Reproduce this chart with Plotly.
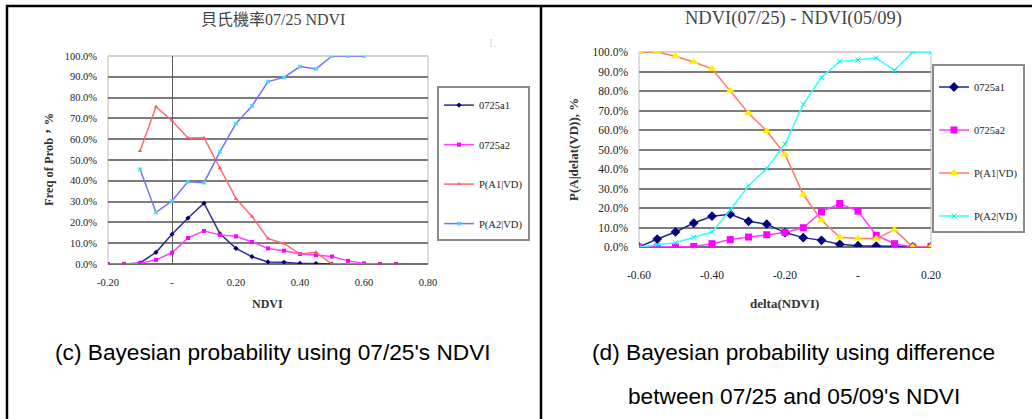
import plotly.graph_objects as go

W, H = 1032, 419

# ---------------- data: left chart (07/25 NDVI) ----------------
left_x_all = [-0.20, -0.15, -0.10, -0.05, 0.00, 0.05, 0.10, 0.15, 0.20, 0.25,
              0.30, 0.35, 0.40, 0.45, 0.50, 0.55, 0.60, 0.65, 0.70]
left_x_a1 = left_x_all[1:15]          # -0.15 .. 0.50
left_a1 = [0.0, 0.5, 5.6, 14.3, 22.1, 29.2, 14.5, 7.5, 3.5, 1.0, 0.8, 0.3, 0.2, 0.0]
left_a2 = [0.0, 0.0, 0.3, 2.0, 5.4, 12.5, 15.9, 14.0, 13.3, 10.6, 7.5, 6.4, 4.8,
           4.3, 3.6, 1.5, 0.3, 0.0, 0.0]
left_x_p = left_x_all[2:17]           # -0.10 .. 0.60
left_p1 = [54.3, 75.6, 68.9, 60.6, 60.7, 46.0, 31.4, 22.8, 12.2, 9.9, 4.8, 5.6, 0.0, 0.0, 0.0]
left_p2 = [45.5, 24.8, 30.3, 39.6, 39.1, 54.0, 67.6, 76.0, 87.7, 89.7, 94.9, 93.8, 100.0, 100.0, 100.0]
left_xticks = [-0.2, 0.0, 0.2, 0.4, 0.6, 0.8]
left_xticktext = ["-0.20", "-", "0.20", "0.40", "0.60", "0.80"]

# ---------------- data: right chart (delta NDVI) ----------------
right_x = [-0.60, -0.55, -0.50, -0.45, -0.40, -0.35, -0.30, -0.25, -0.20, -0.15,
           -0.10, -0.05, 0.00, 0.05, 0.10, 0.15, 0.20]
right_a1 = [0.0, 4.1, 7.7, 12.3, 15.8, 16.8, 13.2, 11.7, 7.4, 4.8, 3.4, 1.4, 0.7, 0.5, 0.2, 0.0, 0.0]
right_a2 = [0.0, 0.0, 0.0, 0.3, 1.7, 3.8, 5.1, 6.3, 7.4, 9.9, 18.0, 22.3, 18.4, 6.0, 1.7, 0.0, 0.3]
right_p1 = [100.0, 100.0, 97.8, 94.9, 91.4, 80.3, 68.6, 59.5, 47.5, 26.9, 13.7, 5.0, 4.3, 4.3, 8.9, 0.0, 0.0]
right_p2 = [0.0, 1.0, 2.2, 5.0, 7.7, 18.9, 31.4, 40.3, 52.8, 73.2, 87.0, 95.2, 95.9, 96.9, 90.6, 100.0, 100.0]
right_xticks = [-0.6, -0.4, -0.2, 0.0, 0.2]
right_xticktext = ["-0.60", "-0.40", "-0.20", "-", "0.20"]

y_ticks = [0, 10, 20, 30, 40, 50, 60, 70, 80, 90, 100]
y_ticktext = ["0.0%", "10.0%", "20.0%", "30.0%", "40.0%", "50.0%",
              "60.0%", "70.0%", "80.0%", "90.0%", "100.0%"]
series_names = ["0725a1", "0725a2", "P(A1|VD)", "P(A2|VD)"]


def px(x):
    return x / W


def py(y):
    return 1 - y / H


SERIF = "Liberation Serif, Noto Sans CJK TC, serif"
fig = go.Figure()

# left chart traces
fig.add_trace(go.Scatter(x=left_x_a1, y=left_a1, name=series_names[0], mode="lines+markers",
                         line=dict(color="#2e2e90", width=1.5),
                         marker=dict(symbol="diamond", size=4, color="#000080"),
                         xaxis="x", yaxis="y", legend="legend", legendgroup="l1"))
fig.add_trace(go.Scatter(x=left_x_all, y=left_a2, name=series_names[1], mode="lines+markers",
                         line=dict(color="#ff40ff", width=1.5),
                         marker=dict(symbol="square", size=4, color="#ff00ff"),
                         xaxis="x", yaxis="y", legend="legend", legendgroup="l2"))
fig.add_trace(go.Scatter(x=left_x_p, y=left_p1, name=series_names[2], mode="lines+markers",
                         line=dict(color="#ff6a6a", width=1.5),
                         marker=dict(symbol="triangle-up", size=4, color="#ff4f8a"),
                         xaxis="x", yaxis="y", legend="legend", legendgroup="l3"))
fig.add_trace(go.Scatter(x=left_x_p, y=left_p2, name=series_names[3], mode="lines+markers",
                         line=dict(color="#7272ff", width=1.5),
                         marker=dict(symbol="x", size=4, color="#40d8ff"),
                         xaxis="x", yaxis="y", legend="legend", legendgroup="l4"))

# right chart traces
fig.add_trace(go.Scatter(x=right_x, y=right_a1, name=series_names[0], mode="lines+markers",
                         line=dict(color="#23238c", width=1.5),
                         marker=dict(symbol="diamond", size=7.5, color="#000080"),
                         xaxis="x2", yaxis="y2", legend="legend2", legendgroup="r1"))
fig.add_trace(go.Scatter(x=right_x, y=right_a2, name=series_names[1], mode="lines+markers",
                         line=dict(color="#ff40ff", width=1.5),
                         marker=dict(symbol="square", size=7, color="#ff00ff"),
                         xaxis="x2", yaxis="y2", legend="legend2", legendgroup="r2"))
fig.add_trace(go.Scatter(x=right_x, y=right_p1, name=series_names[2], mode="lines+markers",
                         line=dict(color="#ff7a6a", width=1.5),
                         marker=dict(symbol="triangle-up", size=8, color="#ffee00"),
                         xaxis="x2", yaxis="y2", legend="legend2", legendgroup="r3"))
fig.add_trace(go.Scatter(x=right_x, y=right_p2, name=series_names[3], mode="lines+markers",
                         line=dict(color="#33ffff", width=1.5),
                         marker=dict(symbol="x-thin", size=5, color="#00e8ff",
                                     line=dict(color="#00e8ff", width=1)),
                         xaxis="x2", yaxis="y2", legend="legend2", legendgroup="r4"))

tickfont = dict(family=SERIF, size=10.5, color="#222222")
tickfont2 = dict(family=SERIF, size=11.5, color="#222222")

common_y = dict(range=[0, 100], tickmode="array", tickvals=y_ticks, ticktext=y_ticktext,
                showgrid=True, gridcolor="#7c7c7c", gridwidth=2.2, zeroline=False,
                showline=False, ticks="", fixedrange=True, automargin=False)

fig.update_layout(
    template="none",
    width=W, height=H, autosize=False,
    margin=dict(l=0, r=0, t=0, b=0, pad=0, autoexpand=False),
    paper_bgcolor="white", plot_bgcolor="white",
    xaxis=dict(domain=[px(108), px(428)], range=[-0.2, 0.8], anchor="y",
               tickmode="array", tickvals=left_xticks, ticktext=left_xticktext,
               showgrid=False, zeroline=True, zerolinecolor="#5a5a5a", zerolinewidth=1.2,
               showline=False, ticks="", tickfont=tickfont, ticklabelstandoff=10,
               automargin=False, fixedrange=True),
    yaxis=dict(domain=[py(264), py(56)], anchor="x", tickfont=tickfont,
               ticklabelstandoff=10, **common_y),
    xaxis2=dict(domain=[px(639), px(931)], range=[-0.6, 0.2], anchor="y2",
                tickmode="array", tickvals=right_xticks, ticktext=right_xticktext,
                showgrid=False, zeroline=False, showline=False, ticks="",
                tickfont=tickfont2, ticklabelstandoff=19, automargin=False, fixedrange=True),
    yaxis2=dict(domain=[py(247), py(52)], anchor="x2", tickfont=tickfont2,
                ticklabelstandoff=10, **common_y),
    legend=dict(x=px(437), y=py(86), xanchor="left", yanchor="top",
                bordercolor="#8a8a8a", borderwidth=2, bgcolor="white",
                font=dict(family=SERIF, size=10.5, color="#222222"),
                title=dict(text=" ", font=dict(size=2)),
                tracegroupgap=20.5, itemwidth=30, traceorder="grouped"),
    legend2=dict(x=px(932), y=py(64), xanchor="left", yanchor="top",
                 bordercolor="#8a8a8a", borderwidth=2, bgcolor="white",
                 font=dict(family=SERIF, size=10.5, color="#222222"),
                 title=dict(text=" ", font=dict(size=5)),
                 tracegroupgap=24, itemwidth=30, traceorder="grouped"),
)

shapes = []
# plot frames: light top / sides, dark bottom
for xr, yr in (("x domain", "y domain"), ("x2 domain", "y2 domain")):
    shapes.append(dict(type="line", xref=xr, yref=yr, x0=0, x1=1, y0=1, y1=1,
                       line=dict(color="#d2d2d2", width=2), layer="below"))
    shapes.append(dict(type="line", xref=xr, yref=yr, x0=0, x1=0, y0=0, y1=1,
                       line=dict(color="#d2d2d2", width=1.5), layer="below"))
    shapes.append(dict(type="line", xref=xr, yref=yr, x0=1, x1=1, y0=0, y1=1,
                       line=dict(color="#d2d2d2", width=1.5), layer="below"))
    shapes.append(dict(type="line", xref=xr, yref=yr, x0=0, x1=1, y0=0, y1=0,
                       line=dict(color="#707070", width=2), layer="below"))
# table borders
shapes.append(dict(type="line", xref="paper", yref="paper", x0=px(6), x1=1, y0=py(6), y1=py(6),
                   line=dict(color="black", width=2.5)))
shapes.append(dict(type="line", xref="paper", yref="paper", x0=px(7), x1=px(7), y0=py(5), y1=0,
                   line=dict(color="black", width=2.5)))
shapes.append(dict(type="line", xref="paper", yref="paper", x0=px(541), x1=px(541), y0=py(5), y1=0,
                   line=dict(color="black", width=2.5)))
fig.update_layout(shapes=shapes)

ann = []


def text(x, y, s, size, family=SERIF, color="#333333", angle=0, bold=False):
    if bold:
        s = "<b>" + s + "</b>"
    ann.append(dict(x=px(x), y=py(y), xref="paper", yref="paper", text=s, showarrow=False,
                    xanchor="center", yanchor="middle", textangle=angle,
                    font=dict(family=family, size=size, color=color)))


text(273, 19.5, "貝氏機率07/25 NDVI", 16, color="#444444")
text(793, 18, "NDVI(07/25) - NDVI(05/09)", 18.5, color="#444444")
text(49, 160, "Freq of Prob，%", 12.5, color="#333333", angle=-90, bold=True)
text(573, 150, "P(A|delat(VD)), %", 13, color="#333333", angle=-90, bold=True)
text(267, 304, "NDVI", 12, color="#333333", bold=True)
text(784, 303, "delta(NDVI)", 13, color="#333333", bold=True)
text(492, 43, "L", 12, color="#dddddd")
SANS = "Liberation Sans, Arial, sans-serif"
text(273, 351.5, "(c) Bayesian probability using 07/25's NDVI", 22.7, family=SANS, color="black")
text(793, 351.5, "(d) Bayesian probability using difference", 22.7, family=SANS, color="black")
text(793.5, 395.5, "between 07/25 and 05/09's NDVI", 22.7, family=SANS, color="black")
fig.update_layout(annotations=ann)

fig.write_html(
    "out.html",
    config={"displayModeBar": False},
    post_script="document.body.style.margin='0';document.body.style.overflow='hidden';",
)
